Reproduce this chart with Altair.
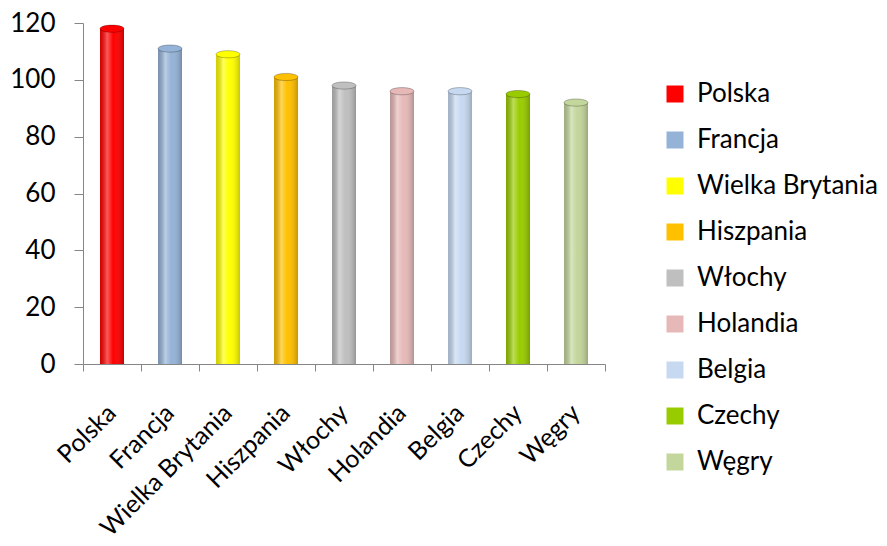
import altair as alt
import pandas as pd

countries = ["Polska", "Francja", "Wielka Brytania", "Hiszpania", "Włochy",
             "Holandia", "Belgia", "Czechy", "Węgry"]
values = [118, 111, 109, 101, 98, 96, 96, 95, 92]
colors = ["#FF0000", "#95B3D7", "#FFFF00", "#FFC000", "#BFBFBF",
          "#E6B9B8", "#C6D9F1", "#99CC00", "#C3D69B"]
y_ticks = [0, 20, 40, 60, 80, 100, 120]

df = pd.DataFrame({"kraj": countries, "wartosc": values})

FONT = "Lato"
GREY = "#868686"

x_scale = alt.Scale(type="band", domain=countries, paddingInner=0, paddingOuter=0)
y_scale = alt.Scale(type="linear", domain=[0, 120], nice=False)
y_axis = alt.Axis(values=y_ticks, title=None, grid=False, domainColor=GREY,
                  tickColor=GREY, tickSize=9, labelPadding=19, labelFontSize=26,
                  labelFont=FONT, labelColor="#000000", orient="left")
color_scale = alt.Scale(domain=countries, range=colors)

x_axis = alt.Axis(title=None, tickBand="extent", tickSize=7, tickColor=GREY,
                  domainColor=GREY, labelAngle=-45, labelFontSize=25,
                  labelFont=FONT, labelColor="#000000", labelPadding=29,
                  labelOffset=-9, labelLimit=400, grid=False, orient="bottom")

ELLIPSE = "M-1,0 A1,0.3 0 1,1 1,0 A1,0.3 0 1,1 -1,0 Z"

base = alt.Chart(df)

bars = base.mark_bar(size=24).encode(
    x=alt.X("kraj:N", scale=x_scale, axis=x_axis, sort=None),
    y=alt.Y("wartosc:Q", scale=y_scale, axis=y_axis),
    color=alt.Color("kraj:N", scale=color_scale, sort=None,
                    legend=alt.Legend(title=None, orient="none", legendX=579,
                                      legendY=58, symbolType="square",
                                      symbolSize=289, symbolStrokeWidth=0,
                                      labelFontSize=26, labelFont=FONT,
                                      labelColor="#000000", rowPadding=20,
                                      labelOffset=9, labelLimit=400)),
)

shade = base.mark_bar(
    size=24,
    color=alt.Gradient(
        gradient="linear", x1=0, x2=1, y1=0, y2=0,
        stops=[
            alt.GradientStop(offset=0, color="rgba(0,0,0,0.18)"),
            alt.GradientStop(offset=0.3, color="rgba(255,255,255,0.35)"),
            alt.GradientStop(offset=0.55, color="rgba(255,255,255,0.0)"),
            alt.GradientStop(offset=1, color="rgba(0,0,0,0.22)"),
        ],
    ),
).encode(
    x=alt.X("kraj:N", scale=x_scale, axis=None, sort=None),
    y=alt.Y("wartosc:Q", scale=y_scale, axis=None),
)

tops = base.mark_point(shape=ELLIPSE, size=576, filled=True, opacity=1,
                       stroke="rgba(0,0,0,0.25)", strokeWidth=1).encode(
    x=alt.X("kraj:N", scale=x_scale, axis=None, sort=None),
    y=alt.Y("wartosc:Q", scale=y_scale, axis=None),
    fill=alt.Fill("kraj:N", scale=color_scale, sort=None, legend=None),
)

chart = alt.layer(bars, shade, tops).resolve_axis(
    x="independent", y="independent"
).properties(
    width=522, height=341,
    autosize=alt.AutoSizeParams(type="none"),
    padding={"left": 75, "top": 15, "right": 274, "bottom": 174},
    background="white",
).configure_view(stroke="transparent", strokeWidth=0, strokeOpacity=0).configure_axis(grid=False)

chart.save("out.html", embed_options={"renderer": "svg", "actions": False})
